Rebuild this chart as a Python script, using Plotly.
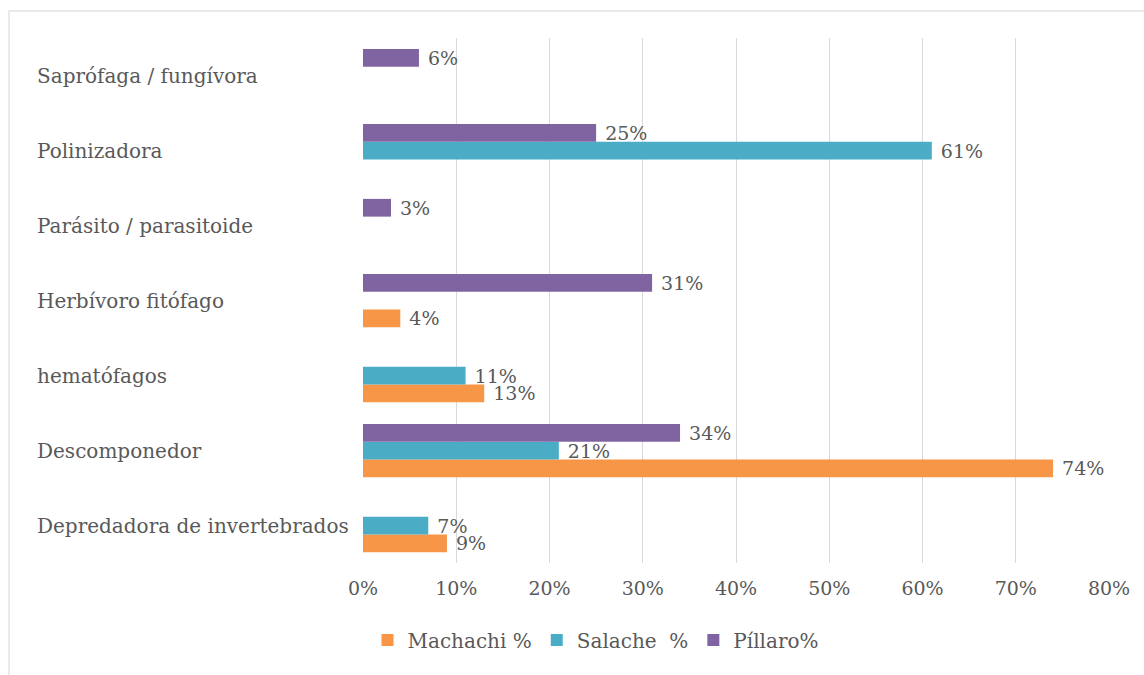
import plotly.graph_objects as go

# Feeding guilds, listed bottom to top as they appear on the axis
categories = [
    "Depredadora de invertebrados",
    "Descomponedor",
    "hematófagos",
    "Herbívoro fitófago",
    "Parásito / parasitoide",
    "Polinizadora",
    "Saprófaga / fungívora",
]

# Percentages per locality (None = not recorded)
machachi = [9, 74, 13, 4, None, None, None]
salache = [7, 21, 11, None, None, 61, None]
pillaro = [None, 34, None, 31, 3, 25, 6]

series_names = ["Machachi %", "Salache\u00a0\u00a0%", "Píllaro%"]
series_colors = ["#F79646", "#4BACC6", "#8064A2"]
x_ticks = [0, 10, 20, 30, 40, 50, 60, 70, 80]
x_tick_text = [f"{t}%" for t in x_ticks]

W, H = 1144, 675
M_L, M_R, M_T, M_B = 363, 35, 38, 112
FONT = "DejaVu Serif"
FS = 19
GREY = "#595959"

fig = go.Figure()
for name, vals, col in zip(series_names, [machachi, salache, pillaro], series_colors):
    fig.add_trace(go.Bar(
        y=categories,
        x=vals,
        name=name,
        orientation="h",
        marker=dict(color=col, line=dict(width=0)),
        text=[f"\u00a0{v}%" if v is not None else "" for v in vals],
        textposition="outside",
        constraintext="none",
        cliponaxis=False,
        textfont=dict(family=FONT, size=FS, color=GREY),
    ))

# Category labels, left aligned in the margin
plot_w = W - M_L - M_R
plot_h = H - M_T - M_B
label_x = (35 - M_L) / plot_w
for c in categories:
    fig.add_annotation(
        x=label_x, xref="paper", y=c, yref="y",
        text=c, showarrow=False, xanchor="left", yanchor="middle",
        font=dict(family=FONT, size=20, color=GREY),
    )

fig.update_layout(
    width=W, height=H,
    margin=dict(l=M_L, r=M_R, t=M_T, b=M_B),
    paper_bgcolor="white", plot_bgcolor="white",
    barmode="group", bargap=0.29, bargroupgap=0,
    font=dict(family=FONT, size=FS, color=GREY),
    showlegend=True,
    legend=dict(
        orientation="h", xref="container", yref="container",
        x=596 / W, y=1 - 640 / H, xanchor="center", yanchor="middle",
        font=dict(family=FONT, size=20, color=GREY),
        traceorder="normal", itemwidth=30,
    ),
    xaxis=dict(
        range=[0, 80], tickvals=x_ticks, ticktext=x_tick_text,
        showgrid=True, gridcolor="#D9D9D9", gridwidth=1,
        zeroline=False, showline=False,
        ticks="", ticklabelstandoff=12,
        tickfont=dict(family=FONT, size=FS, color=GREY),
    ),
    yaxis=dict(
        categoryorder="array", categoryarray=categories,
        showticklabels=False, showgrid=False, zeroline=False, showline=False,
    ),
    shapes=[dict(
        type="rect", xref="paper", yref="paper",
        x0=(9 - M_L) / plot_w, x1=(W + 5 - M_L) / plot_w,
        y0=1 + (M_T - 11) / plot_h, y1=-(M_B + 5) / plot_h,
        line=dict(color="#E3E3E3", width=1.5), fillcolor="rgba(0,0,0,0)",
        layer="below",
    )],
)

fig.write_html("out.html")
